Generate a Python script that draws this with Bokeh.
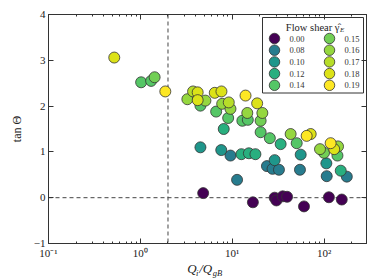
from bokeh.plotting import figure
from bokeh.models import (Span, FixedTicker, LinearAxis, LogAxis, Range1d, LinearScale)
from bokeh.core.properties import value
from bokeh.palettes import Viridis256
from bokeh.embed import file_html
from bokeh.resources import INLINE

# ---- data ----
shear_levels = [0.00, 0.08, 0.10, 0.12, 0.14, 0.15, 0.16, 0.17, 0.18, 0.19]
shear_labels = ["0.00", "0.08", "0.10", "0.12", "0.14", "0.15", "0.16", "0.17", "0.18", "0.19"]

q_ratio = [0.52, 1.02, 1.31, 1.43, 1.87, 3.25, 3.75, 4.21, 4.21, 4.51,
           5.11, 6.46, 7.64, 6.69, 7.78, 9.18, 9.58, 9.04, 8.09, 13.97,
           18.7, 14.6, 12.9, 14.8, 21.3, 20.4, 20.4, 25.7, 4.51, 7.6,
           9.58, 12.6, 15.2, 17.9, 11.3, 4.83, 16.8, 23.9, 29.0, 27.5,
           32.3, 33.7, 43.3, 50.4, 71.6, 64.7, 55.7, 54.7, 90.4, 100.0,
           118.0, 142.0, 129.0, 140.0, 106.0, 107.0, 152.0, 177.0, 29.0, 30.3,
           35.5, 39.6, 60.5, 113.0, 156.0]
tan_theta = [3.06, 2.52, 2.55, 2.63, 2.32, 2.15, 2.32, 2.30, 2.13, 2.01,
             2.12, 2.29, 2.32, 1.88, 2.05, 2.08, 1.94, 1.74, 1.50, 2.23,
             2.06, 1.85, 1.68, 1.70, 1.85, 1.68, 1.43, 1.30, 1.10, 1.04,
             0.92, 0.95, 0.97, 0.95, 0.39, 0.10, -0.10, 0.69, 0.82, 0.63,
             0.61, 1.17, 1.39, 1.19, 1.39, 1.35, 0.94, 0.61, 1.06, 0.98,
             1.19, 1.12, 1.06, 0.92, 0.75, 0.47, 0.59, 0.46, 0.00, -0.06,
             0.03, 0.02, -0.19, 0.01, -0.04]
shear = [0.18, 0.14, 0.14, 0.15, 0.19, 0.16, 0.17, 0.18, 0.18, 0.14,
         0.16, 0.18, 0.18, 0.14, 0.16, 0.17, 0.16, 0.14, 0.12, 0.19,
         0.18, 0.16, 0.14, 0.14, 0.16, 0.15, 0.14, 0.14, 0.10, 0.10,
         0.08, 0.12, 0.12, 0.12, 0.08, 0.00, 0.00, 0.08, 0.10, 0.08,
         0.08, 0.12, 0.16, 0.14, 0.18, 0.19, 0.10, 0.08, 0.16, 0.15,
         0.19, 0.16, 0.18, 0.14, 0.10, 0.08, 0.12, 0.08, 0.00, 0.00,
         0.00, 0.00, 0.00, 0.00, 0.00]

x_ticks = [0.1, 1, 10, 100]
x_tick_labels = ["10\u207b\u00b9", "10\u2070", "10\u00b9", "10\u00b2"]
y_ticks = [-1, 0, 1, 2, 3, 4]
y_tick_labels = ["\u22121", "0", "1", "2", "3", "4"]

legend_title = "Flow shear \u03b3\u0302"
legend_title_sub = "E"
y_label = "tan \u0398"
# x label "Q_i / Q_gB": main line and subscript line (unicode spaces keep the gaps)
x_label_main = "Q\u2009/Q\u2003\u2009"
x_label_sub = "\u2009\u2009i\u2003\u2002\u2009gB"

x_min, x_max = 0.1, 290
y_min, y_max = -1, 4
ref_x, ref_y = 2.0, 0.0

SERIF = "Liberation Serif"
EDGE = "#333333"
TXT = "#222222"

FW, FH = 318, 229  # frame size in px
p = figure(x_axis_type="log", x_range=Range1d(x_min, x_max), y_range=Range1d(y_min, y_max),
           width=370, height=280,
           min_border_left=48, min_border_right=4, min_border_top=14, min_border_bottom=37,
           output_backend="svg", toolbar_location=None)
p.xgrid.visible = False
p.ygrid.visible = False
p.outline_line_color = EDGE
p.background_fill_color = "white"
p.border_fill_color = "white"

# pixel-space ranges for the legend box (origin at frame top-left, y downward)
p.extra_x_ranges = {"lx": Range1d(0, FW)}
p.extra_y_ranges = {"ly": Range1d(FH, 0)}
p.extra_x_scales = {"lx": LinearScale()}
p.extra_y_scales = {"ly": LinearScale()}

minor_x = [m * 10.0 ** e for e in range(-1, 3) for m in range(2, 10)]
xt = FixedTicker(ticks=x_ticks, minor_ticks=minor_x)
yt = FixedTicker(ticks=y_ticks)


def style_axis(ax, labels=True):
    ax.axis_line_color = EDGE
    ax.major_tick_line_color = EDGE
    ax.minor_tick_line_color = EDGE
    ax.major_tick_in = 5
    ax.major_tick_out = 0
    ax.minor_tick_in = 2
    ax.minor_tick_out = 0
    ax.major_label_text_font = SERIF
    ax.major_label_text_font_size = "11px" if labels else "1px"
    ax.major_label_text_color = TXT
    if not labels:
        ax.major_label_standoff = 0
        ax.major_label_text_alpha = 0


xa = p.xaxis[0]
xa.ticker = xt
xa.major_label_overrides = dict(zip(x_ticks, x_tick_labels))
xa.major_label_standoff = 3
style_axis(xa)
xa.axis_label = x_label_main
xa.axis_label_text_font = SERIF
xa.axis_label_text_font_style = "italic"
xa.axis_label_text_font_size = "13px"
xa.axis_label_text_color = TXT
xa.axis_label_standoff = -1

# second (invisible) axis below carrying the subscripts of the x label
xsub = LogAxis(ticker=xt)
style_axis(xsub, labels=False)
xsub.axis_line_alpha = 0
xsub.major_tick_in = 0
xsub.minor_tick_in = 0
xsub.axis_label = x_label_sub
xsub.axis_label_text_font = SERIF
xsub.axis_label_text_font_style = "italic"
xsub.axis_label_text_font_size = "8.5px"
xsub.axis_label_text_color = TXT
xsub.axis_label_standoff = -11
p.add_layout(xsub, "below")

ya = p.yaxis[0]
ya.ticker = yt
ya.major_label_overrides = dict(zip(y_ticks, y_tick_labels))
ya.major_label_standoff = 3
ya.axis_label = y_label
ya.axis_label_text_font = SERIF
ya.axis_label_text_font_style = "normal"
ya.axis_label_text_font_size = "12px"
ya.axis_label_text_color = TXT
ya.axis_label_standoff = 7
style_axis(ya)

top = LogAxis(ticker=xt)
style_axis(top, labels=False)
p.add_layout(top, "above")
right = LinearAxis(ticker=yt)
style_axis(right, labels=False)
p.add_layout(right, "right")

for loc, dim in [(ref_y, "width"), (ref_x, "height")]:
    p.add_layout(Span(location=loc, dimension=dim, line_color="#444444",
                      line_dash="4 3", line_width=1, level="underlay"))


def color_for(v):
    return Viridis256[int(round(v / shear_levels[-1] * 255))]


for lvl in shear_levels:
    xs = [q for q, s in zip(q_ratio, shear) if s == lvl]
    ys = [t for t, s in zip(tan_theta, shear) if s == lvl]
    p.scatter(xs, ys, size=11, fill_color=color_for(lvl), line_color=EDGE, line_width=0.8)

# ---- legend, drawn in frame pixel space ----
LG = dict(x_range_name="lx", y_range_name="ly")
box_l, box_r, box_t, box_b = 214, 315, 3, 78.5
p.quad(left=[box_l], right=[box_r], top=[box_t], bottom=[box_b], fill_color="white",
       line_color=EDGE, line_width=1, **LG)
col_gx, col_tx = [226, 281], [241, 296]
row0, pitch = 24.0, 11.7
gx, gy, tx, cols = [], [], [], []
for i, lvl in enumerate(shear_levels):
    c, r = divmod(i, 5)
    gx.append(col_gx[c])
    tx.append(col_tx[c])
    gy.append(row0 + r * pitch)
    cols.append(color_for(lvl))
p.scatter(gx, gy, size=10.5, fill_color=cols, line_color=EDGE, line_width=0.8, **LG)
p.text(tx, gy, text=shear_labels, text_font=value(SERIF), text_font_size=value("8.5px"),
       text_color="#333333", text_baseline="middle", text_align="left", **LG)
p.text([291], [12.7], text=[legend_title], text_font=value(SERIF),
       text_font_size=value("10.5px"), text_color=TXT, text_baseline="alphabetic",
       text_align="right", **LG)
p.text([291.5], [15.3], text=[legend_title_sub], text_font=value(SERIF),
       text_font_style="italic", text_font_size=value("7px"), text_color=TXT,
       text_baseline="alphabetic", text_align="left", **LG)

open("out.html", "w").write(file_html(p, INLINE))
